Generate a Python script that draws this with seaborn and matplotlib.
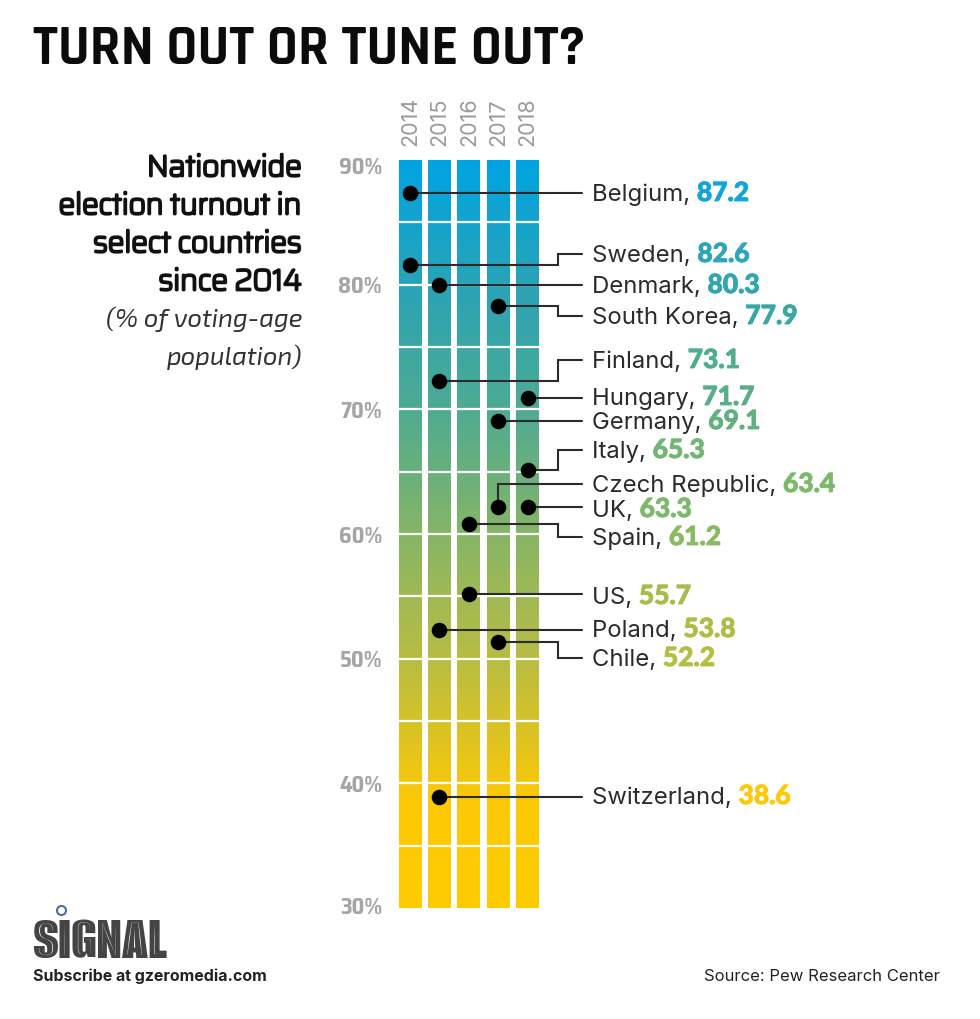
import numpy as np
import pandas as pd
import matplotlib.pyplot as plt
import matplotlib.patheffects as pe
from matplotlib.colors import LinearSegmentedColormap
from matplotlib.lines import Line2D
from matplotlib.transforms import ScaledTranslation
import seaborn as sns

# data
countries = ["Belgium", "Sweden", "Denmark", "South Korea", "Finland", "Hungary", "Germany", "Italy",
             "Czech Republic", "UK", "Spain", "US", "Poland", "Chile", "Switzerland"]
turnout = ["87.2", "82.6", "80.3", "77.9", "73.1", "71.7", "69.1", "65.3",
           "63.4", "63.3", "61.2", "55.7", "53.8", "52.2", "38.6"]
years = [2014, 2014, 2015, 2017, 2015, 2018, 2017, 2018, 2017, 2018, 2016, 2016, 2015, 2017, 2015]
dot_pos = [87.35, 81.6, 80.0, 78.3, 72.3, 70.9, 69.1, 65.1, 62.15, 62.2, 60.8, 55.2, 52.3, 51.3, 38.9]
value_colors = ["#12a4dc", "#2ea5b8", "#2fa7b0", "#38a8a6", "#4fad90", "#58ae88", "#62b07f", "#72b673",
                "#7db86c", "#7db86c", "#8aba62", "#a6bd4c", "#aebd46", "#b3be44", "#fec90a"]
all_years = [2014, 2015, 2016, 2017, 2018]
tick_vals = [90, 80, 70, 60, 50, 40, 30]

# where the label rows sit, in pixels from the top
line_px = [193, 254, 285, 316, 360, 399, 421, 450, 484, 507, 537, 595, 630, 658, 796]
text_px = [193, 254, 285, 316, 360, 397, 421, 450, 484, 509, 537, 596, 629, 658, 796]

W, H = 980, 1019
PITCH = 29.45
Y_TOP, Y_BOT = 160, 908

sns.set_theme(style="white")
plt.rcParams['font.family'] = ['Inter', 'DejaVu Sans']

TITLE = ['Rajdhani', 'Roboto']
SQUARE = ['Saira', 'Roboto']
SQUARE_NARROW = ['Saira SemiCondensed', 'Roboto']
SQUARE_IT = ['Exo 2', 'Roboto']
HEAVY = ['Lato', 'DejaVu Sans']
LOGO = ['Alumni Sans Inline One', 'Liberation Sans']

fig = plt.figure(figsize=(W / 100, H / 100), dpi=100)
left = 410 - PITCH * 0.5
ax = fig.add_axes([left / W, 1 - Y_BOT / H, PITCH * 5 / W, (Y_BOT - Y_TOP) / H])


def y_from_px(p):
    return 90 - (p - Y_TOP) * 60 / (Y_BOT - Y_TOP)


def x_from_px(p):
    return 2014 + (p - 410) / PITCH


# gradient columns
grad = LinearSegmentedColormap.from_list("turnout", [
    (0.0, "#ffcb00"), (0.14, "#fdc905"), (0.33, "#b9bd42"), (0.5, "#86b566"),
    (0.67, "#4dab93"), (0.83, "#2aa3b6"), (1.0, "#00a3e2")])
ramp = np.linspace(1, 0, 256).reshape(-1, 1)
half = 23 / PITCH / 2
for yr in all_years:
    ax.imshow(ramp, extent=(yr - half, yr + half, 30, 90), aspect="auto", cmap=grad, vmin=0, vmax=1, zorder=1)
for v in range(35, 90, 5):
    ax.axhline(v, color="white", lw=1.6, zorder=2)

# connectors
elbow_x = x_from_px(558)
end_x = x_from_px(582)
for name, yr, d, p in zip(countries, years, dot_pos, line_px):
    ly = y_from_px(p)
    ex = yr if name == "Czech Republic" else elbow_x
    ly = d if name in ["Belgium", "Denmark", "Hungary", "Germany", "UK", "US", "Poland", "Switzerland"] else ly
    ax.plot([yr, ex, ex, end_x], [d, d, ly, ly], color="#2b2b2b", lw=1.5, zorder=3, clip_on=False,
            solid_joinstyle="miter")

df = pd.DataFrame({"country": countries, "year": years, "pos": dot_pos})
sns.scatterplot(data=df, x="year", y="pos", color="black", s=125, linewidth=0, zorder=4, ax=ax, clip_on=False)

ax.set_xlim(2013.5, 2018.5)
ax.set_ylim(30, 90)
ax.set_xlabel("")
ax.set_ylabel("")
sns.despine(ax=ax, left=True, bottom=True)
ax.xaxis.tick_top()
ax.set_xticks(all_years)
ax.set_xticklabels(all_years, rotation=90, color="#9a9a9a", fontsize=15.5)
ax.set_yticks(tick_vals)
ax.set_yticklabels([f"{v}%" for v in tick_vals], color="#a5a5a5", fontsize=16, fontweight="bold",
                   family=SQUARE_NARROW, ha="right")
ax.tick_params(axis="x", length=0, pad=10)
ax.tick_params(axis="y", length=0, pad=9.5)
# the outer labels sit a bit inside the scale
for lab, shift in zip(ax.get_yticklabels(), [-5, 0, 0, 0, 0, 0, 2]):
    lab.set_transform(lab.get_transform() + ScaledTranslation(0, shift / 100, fig.dpi_scale_trans))
ax.set_facecolor("white")

# country labels, name in regular and value in heavy
renderer = fig.canvas.get_renderer()
for name, val, col, p in zip(countries, turnout, value_colors, text_px):
    ty = y_from_px(p + 8)
    t = ax.text(x_from_px(592), ty, name + ", ", fontsize=17.2, color="#2b2b2b", va="baseline", ha="left")
    x1 = t.get_window_extent(renderer).x1
    xd = ax.transData.inverted().transform((x1, 0))[0]
    v = ax.text(xd, ty, val, fontsize=19, color=col, va="baseline", ha="left", family=HEAVY, fontweight="black")
    v.set_path_effects([pe.withStroke(linewidth=0.6, foreground=col)])


def px_text(x, y, s, **kw):
    return fig.text(x / W, 1 - y / H, s, **kw)


px_text(33, 64, "TURN OUT OR TUNE OUT?", fontsize=40.8, fontweight="bold", family=TITLE, color="#0b0b0b")

# this face only comes in a thin cut here, so thicken it with a stroke
for y, s in zip([176, 214, 252, 290], ["Nationwide", "election turnout in", "select countries", "since 2014"]):
    t = px_text(302, y, s, fontsize=21.2, family=SQUARE, color="#111111", ha="right")
    t.set_path_effects([pe.withStroke(linewidth=2.0, foreground="#111111")])
for y, s in zip([327, 365], ["(% of voting-age", "population)"]):
    px_text(302, y, s, fontsize=18.5, style="italic", family=SQUARE_IT, color="#333333", ha="right")

# logo
px_text(32, 958, "SIGNAL", fontsize=46, family=LOGO, color="#444444")
fig.add_artist(Line2D([61 / W], [1 - 910 / H], marker="o", ms=6.5, mfc="white", mec="#4a6fa5", mew=1.5,
                      transform=fig.transFigure))
px_text(33, 981, "Subscribe at gzeromedia.com", fontsize=11.5, fontweight="bold", color="#222222")
px_text(940, 981, "Source: Pew Research Center", fontsize=12, color="#222222", ha="right")

fig.savefig("out.png", dpi=100)
